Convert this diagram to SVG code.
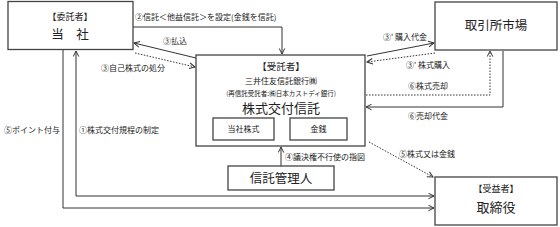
<svg xmlns="http://www.w3.org/2000/svg" width="560" height="227" viewBox="0 0 560 227">
<defs>
<style>
.box{fill:#fff;stroke:#444;stroke-width:1.3}
.ln{fill:none;stroke:#333;stroke-width:1}
.dot{fill:none;stroke:#333;stroke-width:1;stroke-dasharray:1.5 1.5}
text{font-family:"Noto Sans CJK JP","Noto Sans",sans-serif;fill:#222}
.s{font-size:8px}
.m{font-size:9px}
.l{font-size:12.5px}
.c{text-anchor:middle}
</style>
<marker id="ah" viewBox="0 0 10 10" refX="9" refY="5" markerWidth="7" markerHeight="7" markerUnits="userSpaceOnUse" orient="auto-start-reverse">
<path d="M1,1 L9,5 L1,9" fill="none" stroke="#333" stroke-width="1.4"/>
</marker>
</defs>
<rect width="560" height="227" fill="#fff"/>

<g id="connectors">
<path class="ln" d="M133,27 H282 V54" marker-end="url(#ah)"/>
<text class="s" x="135" y="20">②信託＜他益信託＞を設定(金銭を信託)</text>
<path class="ln" d="M196,58 L134,43" marker-end="url(#ah)"/>
<text class="s" x="175" y="44" text-anchor="middle">③払込</text>
<path class="dot" d="M135,53 L195,67" marker-end="url(#ah)"/>
<text class="s" x="133" y="71" text-anchor="middle">③自己株式の処分</text>
<path class="ln" d="M367,56 L434,43" marker-end="url(#ah)"/>
<text class="s" x="405" y="40" text-anchor="middle">③' 購入代金</text>
<path class="dot" d="M435,53 L367,62" marker-end="url(#ah)"/>
<text class="s" x="428" y="68" text-anchor="middle">③' 株式購入</text>
<path class="dot" d="M366,95 H490 V51" marker-end="url(#ah)"/>
<text class="s" x="428" y="89" text-anchor="middle">⑥株式売却</text>
<path class="ln" d="M503,51 V107 H366" marker-end="url(#ah)"/>
<text class="s" x="428" y="119" text-anchor="middle">⑥売却代金</text>
<path class="dot" d="M369,142 L433,177" marker-end="url(#ah)"/>
<text class="s" x="427" y="157" text-anchor="middle">⑤株式又は金銭</text>
<path class="ln" d="M281,166 V147" marker-end="url(#ah)"/>
<text class="s" x="285" y="160">④議決権不行使の指図</text>
<path class="ln" d="M63,50 V208 H434" marker-end="url(#ah)"/>
<text class="s" x="60" y="133" text-anchor="end">⑤ポイント付与</text>
<path class="ln" d="M76,51 V196 H434" marker-start="url(#ah)" marker-end="url(#ah)"/>
<text class="s" x="79" y="133">①株式交付規程の制定</text>
</g>

<g id="itaku">
<rect class="box" x="8" y="1.5" width="125" height="48"/>
<text class="m c" x="70" y="20">【委託者】</text>
<text class="l c" x="70" y="39">当　社</text>
</g>

<g id="market">
<rect class="box" x="435" y="2" width="122" height="48"/>
<text class="l c" x="496" y="30">取引所市場</text>
</g>

<g id="jutaku">
<rect class="box" x="196" y="55" width="169" height="91"/>
<text class="c" x="281" y="70" font-size="9.5">【受託者】</text>
<text class="s c" x="281" y="84">三井住友信託銀行㈱</text>
<text class="c" x="281" y="96" font-size="6.5">(再信託受託者:㈱日本カストディ銀行)</text>
<text class="c" x="281" y="113" font-size="13">株式交付信託</text>
<g id="tousha-kabu">
<rect class="box" x="213" y="118" width="61" height="22"/>
<text class="s c" x="243.5" y="132">当社株式</text>
</g>
<g id="kinsen">
<rect class="box" x="290" y="118" width="57" height="22"/>
<text class="s c" x="318.5" y="132">金銭</text>
</g>
</g>

<g id="kanrinin">
<rect class="box" x="228" y="166" width="106" height="24"/>
<text class="l c" x="281" y="183">信託管理人</text>
</g>

<g id="torishimariyaku">
<rect class="box" x="435" y="177" width="122" height="48"/>
<text class="m c" x="496" y="192">【受益者】</text>
<text class="c" x="496" y="212" font-size="13">取締役</text>
</g>
</svg>
